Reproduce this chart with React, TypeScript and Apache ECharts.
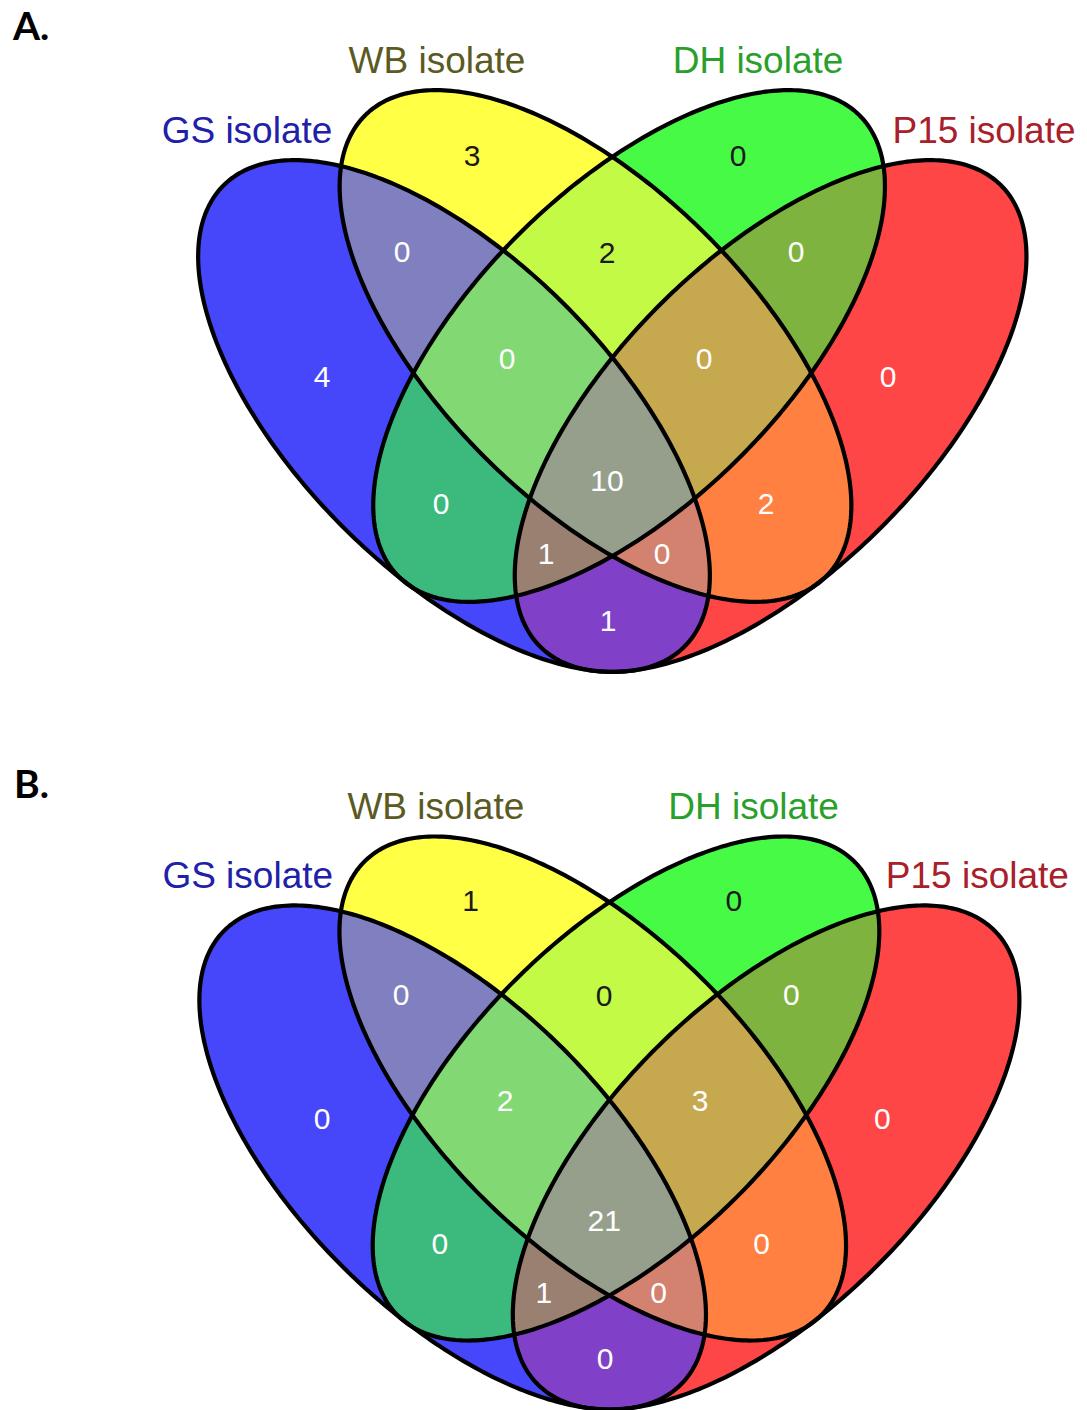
import React, { useEffect, useRef } from "react";
import * as echarts from "echarts";

// ---------------- data ----------------
const setNames = ["GS isolate", "WB isolate", "DH isolate", "P15 isolate"];
const panelTitles = ["A.", "B."];
// regions as set combinations: bit 1 = GS, 2 = WB, 4 = DH, 8 = P15
const regionMasks = [1, 2, 4, 8, 3, 6, 12, 7, 14, 5, 10, 15, 13, 11, 9];
const countsA = [4, 3, 0, 0, 0, 2, 0, 0, 0, 0, 2, 10, 1, 0, 1];
const countsB = [0, 1, 0, 0, 0, 0, 0, 2, 3, 0, 0, 21, 1, 0, 0];
const panelCounts = [countsA, countsB];

// ---------------- layout & style ----------------
const ELLIPSE_A = 326;
const ELLIPSE_B = 157;
const ellipseLayout = [
  { cx: 454, cy: 416, deg: 45 },
  { cx: 595.5, cy: 346, deg: 45 },
  { cx: 629.1, cy: 346, deg: -45 },
  { cx: 770.6, cy: 416, deg: -45 },
];
const regionLabelPos = [
  [322, 376], [472, 155], [738, 155], [888, 376],
  [402, 251], [607, 252], [796, 251],
  [507, 358], [704, 358],
  [441, 503], [766, 503],
  [607, 480],
  [546, 553], [662, 553],
  [608, 620],
];
const regionFill: Record<number, string> = {
  1: "#4646fa", 2: "#ffff46", 4: "#46fa46", 8: "#ff4646",
  3: "#8080c0", 6: "#c2fa46", 12: "#7fb33f",
  7: "#82d872", 14: "#c6a84e",
  5: "#3cba7e", 10: "#ff8040",
  15: "#969f8c",
  13: "#9a8070", 11: "#d48270",
  9: "#8040c8",
};
const darkLabelMasks = [2, 4, 6];
const setLabelPos = [[247, 130], [437, 60], [758, 60], [984, 130]];
const setLabelColor = ["#2020a8", "#5a5a22", "#2aa02a", "#a8202a"];
const panelTransforms = [
  { sx: 1, sy: 1, ox: 0, oy: 0 },
  { sx: 0.99, sy: 0.985, ox: 3.2, oy: 747.7 },
];
const titlePos = [[13, 25], [14, 783]];
const FONT = "'Liberation Sans', Arial, Helvetica, sans-serif";

type Pt = number[];
type TF = { sx: number; sy: number; ox: number; oy: number };

function ellipsePoints(e: { cx: number; cy: number; deg: number }, tf: TF, n = 360): Pt[] {
  const th = (e.deg * Math.PI) / 180;
  const c = Math.cos(th);
  const s = Math.sin(th);
  const pts: Pt[] = [];
  for (let i = 0; i < n; i++) {
    const t = (i / n) * 2 * Math.PI;
    const x = e.cx + ELLIPSE_A * Math.cos(t) * c - ELLIPSE_B * Math.sin(t) * s;
    const y = e.cy + ELLIPSE_A * Math.cos(t) * s + ELLIPSE_B * Math.sin(t) * c;
    pts.push([tf.ox + tf.sx * x, tf.oy + tf.sy * y]);
  }
  return pts;
}

function clipConvex(subject: Pt[], clip: Pt[]): Pt[] {
  let area = 0;
  for (let i = 0; i < clip.length; i++) {
    const p = clip[i];
    const q = clip[(i + 1) % clip.length];
    area += p[0] * q[1] - q[0] * p[1];
  }
  const sg = area >= 0 ? 1 : -1;
  let output = subject;
  for (let i = 0; i < clip.length; i++) {
    if (!output.length) break;
    const A = clip[i];
    const B = clip[(i + 1) % clip.length];
    const inside = (p: Pt) =>
      sg * ((B[0] - A[0]) * (p[1] - A[1]) - (B[1] - A[1]) * (p[0] - A[0])) >= 0;
    const inter = (P: Pt, Q: Pt): Pt => {
      const x1 = P[0], y1 = P[1], x2 = Q[0], y2 = Q[1];
      const x3 = A[0], y3 = A[1], x4 = B[0], y4 = B[1];
      const den = (x1 - x2) * (y3 - y4) - (y1 - y2) * (x3 - x4);
      if (Math.abs(den) < 1e-12) return [x1, y1];
      const t = ((x1 - x3) * (y3 - y4) - (y1 - y3) * (x3 - x4)) / den;
      return [x1 + t * (x2 - x1), y1 + t * (y2 - y1)];
    };
    const input = output;
    output = [];
    for (let j = 0; j < input.length; j++) {
      const cur = input[j];
      const prev = input[(j + input.length - 1) % input.length];
      const cIn = inside(cur);
      const pIn = inside(prev);
      if (cIn) {
        if (!pIn) output.push(inter(prev, cur));
        output.push(cur);
      } else if (pIn) {
        output.push(inter(prev, cur));
      }
    }
  }
  return output;
}

const popcount = (m: number) => ((m & 1) + ((m >> 1) & 1) + ((m >> 2) & 1) + ((m >> 3) & 1));

function buildPanel(p: number): any[] {
  const tf = panelTransforms[p];
  const counts = panelCounts[p];
  const polys = ellipseLayout.map((e) => ellipsePoints(e, tf));
  const els: any[] = [];
  const order = regionMasks
    .map((m, i) => i)
    .sort((a, b) => popcount(regionMasks[a]) - popcount(regionMasks[b]));
  order.forEach((idx) => {
    const m = regionMasks[idx];
    let poly: Pt[] | null = null;
    for (let k = 0; k < 4; k++) {
      if (m & (1 << k)) {
        poly = poly ? clipConvex(poly, polys[k]) : polys[k].slice();
      }
    }
    if (poly && poly.length > 2) {
      els.push({
        type: "polygon",
        silent: true,
        z2: popcount(m) * 10,
        shape: { points: poly },
        style: { fill: regionFill[m], stroke: regionFill[m], lineWidth: 0.6 },
      });
    }
  });
  polys.forEach((poly) => {
    els.push({
      type: "polygon",
      silent: true,
      z2: 100,
      shape: { points: poly },
      style: { fill: "none", stroke: "#000", lineWidth: 4.2 },
    });
  });
  regionMasks.forEach((m, i) => {
    const [x, y] = regionLabelPos[i];
    els.push({
      type: "text",
      silent: true,
      z2: 200,
      x: tf.ox + tf.sx * x,
      y: tf.oy + tf.sy * y,
      style: {
        text: String(counts[i]),
        fill: darkLabelMasks.indexOf(m) >= 0 ? "#1a1a1a" : "#ffffff",
        fontSize: 30,
        fontFamily: FONT,
        align: "center",
        verticalAlign: "middle",
        textAlign: "center",
        textVerticalAlign: "middle",
      },
    });
  });
  setNames.forEach((name, i) => {
    const [x, y] = setLabelPos[i];
    els.push({
      type: "text",
      silent: true,
      z2: 200,
      x: tf.ox + tf.sx * x,
      y: tf.oy + tf.sy * y,
      style: {
        text: name,
        fill: setLabelColor[i],
        fontSize: 37,
        fontFamily: FONT,
        align: "center",
        verticalAlign: "middle",
        textAlign: "center",
        textVerticalAlign: "middle",
      },
    });
  });
  els.push({
    type: "text",
    silent: true,
    z2: 200,
    x: titlePos[p][0],
    y: titlePos[p][1],
    style: {
      text: panelTitles[p],
      fill: "#000",
      fontSize: 39,
      fontWeight: "bold",
      fontFamily: "Lato, 'Open Sans', sans-serif",
      align: "left",
      verticalAlign: "middle",
      textAlign: "left",
      textVerticalAlign: "middle",
    },
  });
  return els;
}

export default function App() {
  const ref = useRef<HTMLDivElement>(null);
  useEffect(() => {
    if (!ref.current) return;
    const chart = echarts.init(ref.current, null, { renderer: "svg" });
    const elements = [...buildPanel(0), ...buildPanel(1)];
    chart.setOption({
      animation: false,
      backgroundColor: "#ffffff",
      graphic: { elements },
    });
    return () => chart.dispose();
  }, []);
  return (
    <div
      ref={ref}
      style={{ position: "absolute", left: 0, top: 0, width: 1087, height: 1410, background: "#fff" }}
    />
  );
}
